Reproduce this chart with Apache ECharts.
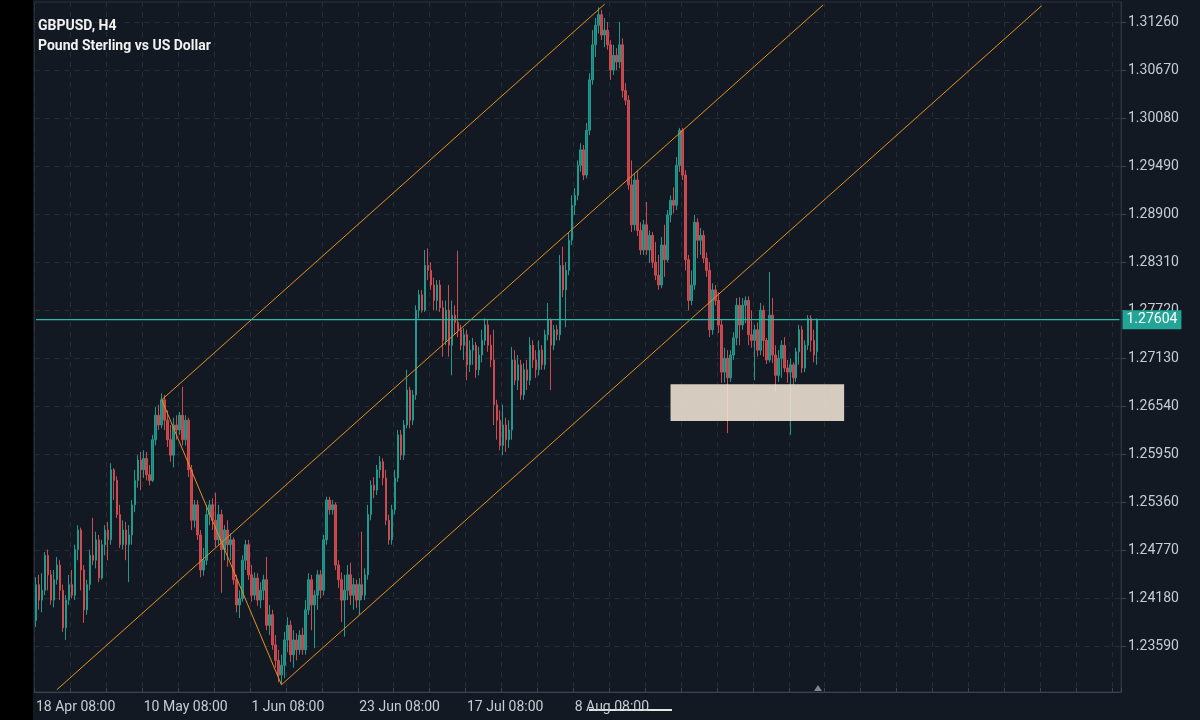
<!DOCTYPE html>
<html>
<head>
<meta charset="utf-8">
<title>GBPUSD, H4</title>
<script src="https://cdn.jsdelivr.net/npm/echarts@6.0.0/dist/echarts.min.js"></script>
<style>
  html, body { margin: 0; padding: 0; background: #000; }
  #chart { position: absolute; left: 33px; top: 0; width: 1167px; height: 720px; }
</style>
</head>
<body>
<div id="chart"></div>
<script>
// H4 candles, each row is [open, close, low, high]
const ohlc = [
  [1.2391,1.2435,1.2383,1.2444],[1.2435,1.2416,1.2404,1.2447],[1.2416,1.2428,1.2401,1.2449],[1.2428,1.2471,1.2422,1.2475],
  [1.2471,1.2447,1.2428,1.2478],[1.2447,1.2416,1.2410,1.2453],[1.2416,1.2441,1.2407,1.2453],[1.2441,1.2459,1.2435,1.2469],
  [1.2459,1.2428,1.2416,1.2465],[1.2428,1.2382,1.2377,1.2435],[1.2382,1.2416,1.2367,1.2422],[1.2416,1.2435,1.2410,1.2447],
  [1.2435,1.2422,1.2418,1.2453],[1.2422,1.2478,1.2416,1.2484],[1.2478,1.2502,1.2465,1.2508],[1.2502,1.2453,1.2428,1.2505],
  [1.2453,1.2404,1.2388,1.2459],[1.2404,1.2435,1.2398,1.2441],[1.2435,1.2471,1.2428,1.2478],[1.2471,1.2465,1.2459,1.2517],
  [1.2465,1.2490,1.2455,1.2500],[1.2490,1.2443,1.2438,1.2496],[1.2443,1.2484,1.2441,1.2490],[1.2484,1.2502,1.2471,1.2508],
  [1.2502,1.2490,1.2465,1.2512],[1.2490,1.2576,1.2484,1.2584],[1.2576,1.2563,1.2539,1.2578],[1.2563,1.2521,1.2517,1.2568],
  [1.2521,1.2484,1.2480,1.2533],[1.2484,1.2502,1.2478,1.2514],[1.2502,1.2484,1.2465,1.2512],[1.2484,1.2496,1.2438,1.2508],
  [1.2496,1.2533,1.2484,1.2539],[1.2533,1.2563,1.2524,1.2576],[1.2563,1.2588,1.2554,1.2594],[1.2588,1.2576,1.2551,1.2598],
  [1.2576,1.2590,1.2566,1.2600],[1.2590,1.2570,1.2563,1.2598],[1.2570,1.2563,1.2557,1.2582],[1.2563,1.2613,1.2561,1.2619],
  [1.2613,1.2643,1.2606,1.2653],[1.2643,1.2631,1.2625,1.2656],[1.2631,1.2662,1.2627,1.2670],[1.2662,1.2637,1.2625,1.2668],
  [1.2637,1.2613,1.2604,1.2649],[1.2613,1.2594,1.2586,1.2631],[1.2594,1.2631,1.2579,1.2640],[1.2631,1.2625,1.2613,1.2643],
  [1.2625,1.2643,1.2619,1.2647],[1.2643,1.2613,1.2606,1.2678],[1.2613,1.2637,1.2606,1.2643],[1.2637,1.2576,1.2567,1.2640],
  [1.2576,1.2514,1.2502,1.2582],[1.2514,1.2533,1.2505,1.2539],[1.2533,1.2496,1.2490,1.2539],[1.2496,1.2453,1.2444,1.2502],
  [1.2453,1.2465,1.2446,1.2480],[1.2465,1.2521,1.2459,1.2533],[1.2521,1.2533,1.2508,1.2539],[1.2533,1.2514,1.2502,1.2541],
  [1.2514,1.2490,1.2481,1.2548],[1.2490,1.2521,1.2484,1.2533],[1.2521,1.2478,1.2425,1.2527],[1.2478,1.2502,1.2465,1.2508],
  [1.2502,1.2484,1.2457,1.2514],[1.2484,1.2490,1.2465,1.2498],
  [1.2490,1.2441,1.2435,1.2493],[1.2441,1.2410,1.2401,1.2447],[1.2410,1.2418,1.2394,1.2428],[1.2418,1.2465,1.2414,1.2471],
  [1.2465,1.2484,1.2453,1.2490],[1.2484,1.2447,1.2441,1.2490],[1.2447,1.2422,1.2414,1.2459],[1.2422,1.2443,1.2416,1.2450],
  [1.2443,1.2416,1.2409,1.2449],[1.2416,1.2428,1.2406,1.2438],[1.2428,1.2441,1.2416,1.2447],[1.2441,1.2385,1.2379,1.2469],
  [1.2385,1.2398,1.2373,1.2410],[1.2398,1.2361,1.2355,1.2404],[1.2361,1.2342,1.2333,1.2373],[1.2342,1.2324,1.2315,1.2355],
  [1.2324,1.2336,1.2312,1.2349],[1.2336,1.2367,1.2320,1.2377],[1.2367,1.2385,1.2352,1.2395],[1.2385,1.2349,1.2340,1.2391],
  [1.2349,1.2367,1.2333,1.2379],[1.2367,1.2355,1.2342,1.2375],[1.2355,1.2373,1.2349,1.2379],[1.2373,1.2355,1.2349,1.2382],
  [1.2355,1.2404,1.2349,1.2416],[1.2404,1.2441,1.2398,1.2449],[1.2441,1.2410,1.2379,1.2447],[1.2410,1.2422,1.2357,1.2428],
  [1.2422,1.2447,1.2404,1.2453],[1.2447,1.2428,1.2418,1.2453],[1.2428,1.2490,1.2422,1.2496],[1.2490,1.2539,1.2484,1.2543],
  [1.2539,1.2527,1.2521,1.2543],[1.2527,1.2533,1.2521,1.2539],[1.2533,1.2459,1.2453,1.2536],[1.2459,1.2441,1.2431,1.2465],
  [1.2441,1.2416,1.2389,1.2450],[1.2416,1.2428,1.2371,1.2447],[1.2428,1.2447,1.2416,1.2459],[1.2447,1.2422,1.2410,1.2462],
  [1.2422,1.2435,1.2404,1.2443],[1.2435,1.2416,1.2406,1.2441],[1.2416,1.2435,1.2398,1.2443],[1.2435,1.2422,1.2416,1.2500],
  [1.2422,1.2447,1.2416,1.2455],[1.2447,1.2521,1.2441,1.2533],[1.2521,1.2557,1.2514,1.2563],[1.2557,1.2551,1.2541,1.2567],
  [1.2551,1.2576,1.2545,1.2582],[1.2576,1.2586,1.2566,1.2593],[1.2586,1.2566,1.2557,1.2590],[1.2566,1.2514,1.2508,1.2576],
  [1.2514,1.2490,1.2484,1.2521],[1.2490,1.2527,1.2484,1.2533],[1.2527,1.2566,1.2521,1.2576],[1.2566,1.2619,1.2561,1.2625],
  [1.2619,1.2594,1.2588,1.2625],[1.2594,1.2631,1.2588,1.2637],[1.2631,1.2674,1.2627,1.2699],[1.2674,1.2637,1.2627,1.2678],
  [1.2637,1.2668,1.2631,1.2674],[1.2668,1.2772,1.2662,1.2778],[1.2772,1.2791,1.2762,1.2797],[1.2791,1.2772,1.2769,1.2797],
  [1.2772,1.2827,1.2770,1.2846],[1.2827,1.2821,1.2809,1.2848],
  [1.2821,1.2803,1.2797,1.2831],[1.2803,1.2784,1.2772,1.2812],[1.2784,1.2803,1.2772,1.2809],[1.2803,1.2775,1.2770,1.2809],
  [1.2775,1.2735,1.2715,1.2784],[1.2735,1.2772,1.2729,1.2784],[1.2772,1.2729,1.2715,1.2803],[1.2729,1.2766,1.2692,1.2784],
  [1.2766,1.2757,1.2742,1.2778],[1.2757,1.2748,1.2739,1.2845],[1.2748,1.2729,1.2723,1.2754],[1.2729,1.2742,1.2711,1.2750],
  [1.2742,1.2705,1.2686,1.2748],[1.2705,1.2723,1.2696,1.2735],[1.2723,1.2729,1.2705,1.2738],[1.2729,1.2699,1.2689,1.2733],
  [1.2699,1.2717,1.2692,1.2727],[1.2717,1.2735,1.2708,1.2748],[1.2735,1.2754,1.2729,1.2762],[1.2754,1.2729,1.2721,1.2760],
  [1.2729,1.2711,1.2702,1.2742],[1.2711,1.2656,1.2631,1.2748],[1.2656,1.2637,1.2613,1.2662],[1.2637,1.2606,1.2600,1.2649],
  [1.2606,1.2631,1.2594,1.2656],[1.2631,1.2613,1.2598,1.2640],[1.2613,1.2625,1.2603,1.2637],[1.2625,1.2711,1.2613,1.2727],
  [1.2711,1.2686,1.2680,1.2723],[1.2686,1.2705,1.2674,1.2717],[1.2705,1.2668,1.2662,1.2711],[1.2668,1.2699,1.2662,1.2707],
  [1.2699,1.2686,1.2674,1.2711],[1.2686,1.2729,1.2680,1.2739],[1.2729,1.2711,1.2701,1.2735],[1.2711,1.2699,1.2689,1.2723],
  [1.2699,1.2723,1.2692,1.2735],[1.2723,1.2705,1.2699,1.2729],[1.2705,1.2742,1.2699,1.2748],[1.2742,1.2760,1.2735,1.2781],
  [1.2760,1.2729,1.2674,1.2762],[1.2729,1.2748,1.2723,1.2754],[1.2748,1.2742,1.2735,1.2754],[1.2742,1.2827,1.2735,1.2840],
  [1.2827,1.2797,1.2788,1.2850],[1.2797,1.2821,1.2751,1.2831],[1.2821,1.2858,1.2815,1.2868],[1.2858,1.2901,1.2852,1.2913],
  [1.2901,1.2913,1.2889,1.2922],[1.2913,1.2950,1.2907,1.2956],[1.2950,1.2969,1.2942,1.2977],[1.2969,1.2938,1.2932,1.2975],
  [1.2938,1.2993,1.2934,1.3002],[1.2993,1.3055,1.2987,1.3063],[1.3055,1.3098,1.3049,1.3116],[1.3098,1.3122,1.3083,1.3131],
  [1.3122,1.3135,1.3112,1.3144],[1.3135,1.3110,1.3104,1.3141],[1.3110,1.3116,1.3095,1.3131],[1.3116,1.3098,1.3092,1.3126],
  [1.3098,1.3067,1.3055,1.3104],[1.3067,1.3085,1.3061,1.3098],[1.3085,1.3077,1.3067,1.3094],[1.3077,1.3098,1.3069,1.3126],
  [1.3098,1.3042,1.3033,1.3106],[1.3042,1.3030,1.3024,1.3051],[1.3030,1.2926,1.2920,1.3036],
  [1.2926,1.2877,1.2868,1.2956],[1.2877,1.2932,1.2870,1.2940],[1.2932,1.2870,1.2863,1.2944],[1.2870,1.2846,1.2840,1.2880],
  [1.2846,1.2877,1.2840,1.2883],[1.2877,1.2846,1.2840,1.2905],[1.2846,1.2864,1.2830,1.2870],[1.2864,1.2831,1.2824,1.2868],
  [1.2831,1.2815,1.2809,1.2856],[1.2815,1.2803,1.2797,1.2840],[1.2803,1.2852,1.2799,1.2862],[1.2852,1.2834,1.2813,1.2877],
  [1.2834,1.2889,1.2831,1.2895],[1.2889,1.2907,1.2880,1.2913],[1.2907,1.2901,1.2891,1.2923],[1.2901,1.2950,1.2895,1.2960],
  [1.2950,1.2993,1.2942,1.2996],[1.2993,1.2938,1.2932,1.2996],[1.2938,1.2834,1.2821,1.2944],[1.2834,1.2784,1.2772,1.2840],
  [1.2784,1.2803,1.2778,1.2821],[1.2803,1.2880,1.2797,1.2889],[1.2880,1.2858,1.2836,1.2885],[1.2858,1.2864,1.2840,1.2873],
  [1.2864,1.2836,1.2830,1.2870],[1.2836,1.2821,1.2813,1.2843],[1.2821,1.2748,1.2739,1.2831],[1.2748,1.2797,1.2742,1.2805],
  [1.2797,1.2784,1.2778,1.2803],[1.2784,1.2754,1.2744,1.2794],[1.2754,1.2696,1.2683,1.2760],[1.2696,1.2713,1.2683,1.2726],
  [1.2713,1.2689,1.2621,1.2723],[1.2689,1.2717,1.2684,1.2723],[1.2717,1.2738,1.2711,1.2745],[1.2738,1.2778,1.2729,1.2787],
  [1.2778,1.2754,1.2729,1.2788],[1.2754,1.2778,1.2748,1.2787],[1.2778,1.2784,1.2756,1.2789],[1.2784,1.2742,1.2729,1.2789],
  [1.2742,1.2735,1.2726,1.2772],[1.2735,1.2748,1.2686,1.2754],[1.2748,1.2723,1.2715,1.2757],[1.2723,1.2772,1.2717,1.2781],
  [1.2772,1.2735,1.2715,1.2778],[1.2735,1.2711,1.2706,1.2738],[1.2711,1.2766,1.2708,1.2819],[1.2766,1.2717,1.2707,1.2787],
  [1.2717,1.2692,1.2672,1.2729],[1.2692,1.2713,1.2684,1.2723],[1.2713,1.2729,1.2689,1.2735],[1.2729,1.2701,1.2696,1.2739],
  [1.2701,1.2696,1.2683,1.2711],[1.2696,1.2705,1.2619,1.2713],[1.2705,1.2689,1.2680,1.2708],[1.2689,1.2721,1.2684,1.2726],
  [1.2721,1.2748,1.2705,1.2754],[1.2748,1.2701,1.2695,1.2753],[1.2701,1.2729,1.2696,1.2735],[1.2729,1.2762,1.2723,1.2766],
  [1.2762,1.2735,1.2721,1.2766],[1.2735,1.2717,1.2708,1.2748],[1.2721,1.27604,1.2705,1.2762]
];

const dateLabels = ['18 Apr 08:00', '10 May 08:00', '1 Jun 08:00', '23 Jun 08:00', '17 Jul 08:00', '8 Aug 08:00'];
const priceTicks = [1.23590, 1.24180, 1.24770, 1.25360, 1.25950, 1.26540, 1.27130,
                    1.27720, 1.28310, 1.28900, 1.29490, 1.30080, 1.30670, 1.31260];
const lastPrice = 1.27604;
const priceMin = 1.23031;
const priceMax = 1.31506;
const slotCount = 363;      // bar slots incl. empty space right of the last bar
const barsPerLabel = 36;
const barsPerGrid = 12;

// orange channel lines + zigzag, [bar index, price] pairs
const trendLines = [
  [[42, 1.2662], [190, 1.3148]],
  [[7, 1.2306], [263, 1.3147]],
  [[82, 1.2312], [336, 1.3146]],
  [[42, 1.2662], [82, 1.2312]]
];
// support rectangle
const zone = [[212, 1.2681], [270, 1.2636]];

const slots = [];
for (let i = 0; i < slotCount; i++) slots.push(String(i));

const gridColor = '#252d39';
const textColor = '#c9cdd3';
const priceColor = '#27bcaa';

const chart = echarts.init(document.getElementById('chart'));
chart.setOption({
  backgroundColor: '#121923',
  animation: false,
  title: {
    text: 'GBPUSD, H4',
    subtext: 'Pound Sterling vs US Dollar',
    left: 0,
    top: 14,
    itemGap: 6,
    textStyle: { color: '#f2f2f2', fontSize: 14, fontWeight: 'bold', fontFamily: 'Roboto' },
    subtextStyle: { color: '#f2f2f2', fontSize: 14, fontWeight: 'bold', fontFamily: 'Roboto' }
  },
  grid: {
    left: 0,
    right: 79,
    top: 2,
    bottom: 28,
    show: true,
    borderColor: '#2b333f',
    borderWidth: 1
  },
  xAxis: {
    type: 'category',
    data: slots,
    boundaryGap: true,
    axisLine: { lineStyle: { color: '#3a4350' } },
    axisTick: { show: true, inside: true, interval: barsPerGrid - 1, length: 4, lineStyle: { color: '#3a4350' } },
    axisLabel: {
      interval: barsPerLabel - 1,
      align: 'left',
      color: textColor,
      fontSize: 14,
      fontFamily: 'Roboto',
      margin: 8,
      formatter: function (value, index) {
        return dateLabels[index / barsPerLabel] || ''
      }
    },
    splitLine: { show: true, interval: barsPerGrid - 1, lineStyle: { color: gridColor, type: [5, 5] } }
  },
  yAxis: {
    type: 'value',
    position: 'right',
    min: priceMin,
    max: priceMax,
    axisLine: { show: true, lineStyle: { color: '#2b333f' } },
    axisTick: { show: true, customValues: priceTicks, length: 5, lineStyle: { color: '#3a4350' } },
    axisLabel: {
      customValues: priceTicks,
      color: textColor,
      fontSize: 14,
      fontFamily: 'Roboto',
      margin: 7,
      formatter: function (value) {
        return value.toFixed(5)
      }
    },
    splitLine: { show: true, lineStyle: { color: gridColor, type: [5, 5] } }
  },
  series: [
    {
      name: 'GBPUSD',
      type: 'candlestick',
      data: ohlc,
      barWidth: 2,
      itemStyle: {
        color: '#1b877e',
        color0: '#bd454b',
        borderColor: '#219a8e',
        borderColor0: '#cd4b50',
        borderWidth: 1
      }
    },
    {
      name: 'drawings',
      type: 'line',
      data: [],
      z: 5,
      silent: true,
      markLine: {
        symbol: 'none',
        silent: true,
        animation: false,
        z: 6,
        label: { show: false },
        lineStyle: { color: '#e8901c', width: 1, type: 'solid' },
        data: trendLines.map(function (l) {
          return [{ coord: l[0] }, { coord: l[1] }]
        })
      },
      markArea: {
        silent: true,
        z: 7,
        itemStyle: { color: 'rgba(240,228,212,0.88)' },
        data: [[{ coord: zone[0] }, { coord: zone[1] }]]
      }
    },
    {
      // current bid line across the whole chart, with its price tag on the axis
      name: 'last price',
      type: 'line',
      data: [[0, lastPrice], [slotCount - 1, lastPrice]],
      z: 8,
      silent: true,
      showSymbol: false,
      symbol: 'none',
      color: priceColor,
      lineStyle: { color: priceColor, width: 1.2 },
      endLabel: {
        show: true,
        distance: 3,
        formatter: lastPrice.toFixed(5),
        color: '#ffffff',
        backgroundColor: '#22a596',
        padding: [3, 4, 2, 4],
        fontSize: 14,
        fontFamily: 'Roboto'
      }
    }
  ],
  graphic: [
    { type: 'line', shape: { x1: 556, y1: 710, x2: 639, y2: 710 }, style: { stroke: '#e6e6e6', lineWidth: 2 } },
    { type: 'polygon', shape: { points: [[781, 691], [785, 685], [789, 691]] }, style: { fill: '#7c8590' } }
  ]
})
</script>
</body>
</html>
